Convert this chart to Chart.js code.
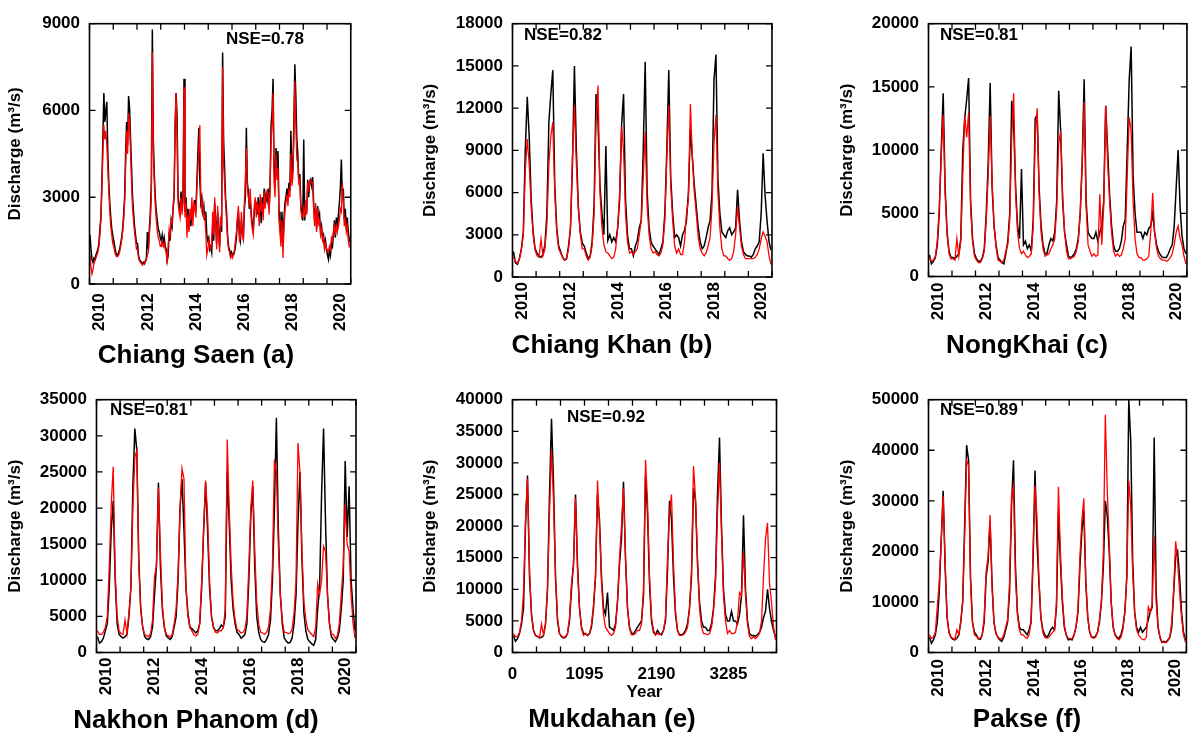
<!DOCTYPE html>
<html>
<head>
<meta charset="utf-8">
<script src="https://cdn.jsdelivr.net/npm/chart.js@4.4.1/dist/chart.umd.min.js"></script>
<style>
  html, body { margin: 0; padding: 0; background: #fff; overflow: hidden; width: 1188px; height: 735px; }
  canvas { position: absolute; }
  .lbl { position: absolute; font-family: "Liberation Sans", Arial, sans-serif; font-weight: bold; line-height: 1; white-space: nowrap; color: #000; }
  .ttl { font-size: 26px; transform: translate(-50%, -50%); }
  .nse { font-size: 17px; transform: translate(0, -50%); }
</style>
</head>
<body>
<script>
// Chiang Saen: half-monthly values, Jan 2010 .. Dec 2020 (one row per year)
const obsA = [
  1700, 1200, 850, 750, 900, 850, 1000, 1100, 1200, 1400, 1900, 2300, 3500, 5000, 6600, 5600, 6000, 6300, 4500, 3500, 2800, 2300, 1900, 1700,
  1500, 1300, 1100, 1000, 1000, 1100, 1200, 1400, 1600, 1900, 2400, 3000, 4500, 5600, 4800, 6500, 6100, 5000, 4000, 3000, 2500, 2000, 1700, 1400,
  1400, 1000, 850, 800, 750, 700, 750, 700, 800, 900, 1800, 1200, 1900, 2500, 3500, 8800, 5000, 3800, 3000, 2500, 2200, 1900, 1800, 1600,
  1500, 1700, 1400, 1600, 1300, 1200, 800, 1000, 1800, 1500, 2200, 2000, 2600, 3000, 5400, 6600, 5800, 3000, 2700, 2500, 3200, 2600, 3000, 7100,
  2500, 3000, 2200, 2600, 1900, 2400, 2000, 2700, 2300, 2600, 2900, 2500, 3500, 4500, 5400, 3600, 2800, 3000, 2500, 2700, 2200, 2500, 1700, 1500,
  1600, 1200, 1300, 1100, 2000, 1500, 2800, 2200, 1400, 2500, 1800, 1300, 2300, 1800, 8000, 5000, 4000, 3000, 2500, 1700, 1300, 1200, 1000, 1100,
  1000, 1000, 1100, 1300, 1600, 2200, 2500, 1700, 1500, 2200, 1800, 1600, 2600, 3000, 5400, 3500, 3200, 2600, 2900, 2400, 2100, 1800, 2500, 2800,
  2800, 2400, 3000, 2300, 2900, 2100, 3000, 2500, 3300, 2700, 3100, 2900, 3300, 2600, 3500, 5500, 6000, 7100, 4000, 3500, 4700, 3800, 4600, 2500,
  2000, 1500, 2500, 1300, 2200, 2800, 3000, 3300, 2900, 3500, 3200, 5300, 3600, 4000, 5500, 7600, 6500, 5000, 4500, 3500, 3800, 2800, 2400, 2200,
  5000, 2200, 2800, 2500, 3600, 3000, 3500, 3600, 3400, 3700, 2800, 2200, 2600, 1900, 2700, 2200, 2400, 1800, 2000, 1600, 1700, 1300, 1500, 1200,
  1000, 850, 1200, 1000, 1400, 1300, 1700, 2200, 1600, 2300, 1900, 2400, 2800, 3300, 4300, 3000, 3300, 2200, 2600, 1900, 2300, 1800, 1500, 1600
];
const simA = [
  1000, 600, 350, 500, 700, 800, 900, 1000, 1100, 1300, 1700, 2200, 3200, 4500, 5500, 5000, 5300, 4800, 4000, 3200, 2500, 2000, 1700, 1400,
  1300, 1100, 1000, 950, 950, 1000, 1100, 1300, 1500, 1800, 2200, 2800, 4000, 5300, 4500, 5900, 5600, 4500, 3500, 2600, 2200, 1800, 1500, 1200,
  1200, 900, 800, 750, 700, 650, 700, 700, 750, 850, 1000, 1100, 1700, 2200, 3000, 8000, 4500, 3500, 2700, 2200, 1800, 1600, 1500, 1300,
  1300, 1500, 1300, 1400, 1200, 1100, 700, 1300, 1900, 1700, 2200, 2100, 2700, 3200, 5500, 6600, 5000, 2800, 2500, 2300, 3000, 2400, 2800, 6800,
  2300, 2800, 1600, 2400, 1800, 2600, 2200, 3000, 2000, 2800, 2700, 2300, 3300, 4000, 4700, 5500, 3000, 2600, 2800, 2300, 2400, 1800, 1000, 1200,
  1500, 1300, 1200, 1400, 2500, 1700, 3000, 2000, 1200, 2700, 1600, 1100, 2200, 2000, 7500, 4200, 3500, 2800, 2200, 1600, 1200, 1100, 900, 1000,
  900, 1000, 1200, 1500, 1800, 2300, 2700, 1500, 1600, 2500, 1700, 1500, 2800, 3600, 4700, 3300, 3000, 2800, 3300, 2200, 1900, 1700, 2700, 3000,
  2300, 2800, 2700, 2000, 3100, 2500, 2800, 2200, 3200, 2600, 3000, 3200, 3100, 2400, 3300, 5000, 5500, 6600, 3500, 3000, 4500, 3600, 4000, 2200,
  1800, 1300, 2200, 900, 2000, 2500, 2800, 3100, 2700, 3300, 3000, 4500, 3400, 3700, 5000, 7000, 5500, 4300, 4200, 3500, 3600, 2600, 2300, 2400,
  2600, 2300, 2900, 2400, 3500, 3200, 3600, 3600, 3500, 3500, 2600, 2000, 2800, 1800, 2600, 2100, 2200, 1700, 1900, 1500, 1600, 1200, 1400, 1200,
  1200, 1100, 1300, 1200, 1600, 1500, 1800, 2000, 1700, 2100, 1800, 2000, 2200, 2600, 2500, 3500, 2800, 2000, 2300, 1800, 2000, 1500, 1300, 1400
];
// other stations: monthly values, Jan 2010 .. Dec 2020 (one row per year)
const obsB = [
  1800, 1000, 900, 1300, 2000, 3200, 9000, 12800, 10000, 5500, 3200, 2000,
  1700, 1500, 1400, 1600, 2300, 4500, 11000, 13000, 14700, 6500, 3500, 2200,
  1800, 1400, 1200, 1300, 2200, 3500, 8000, 15000, 9000, 5000, 3200, 2400,
  2200, 1700, 1300, 1500, 2500, 5000, 13000, 11000, 6500, 4500, 3000, 9300,
  2600, 3000, 2500, 2800, 2500, 3500, 5500, 10800, 13000, 5500, 3000, 2000,
  2000, 1500, 2200, 2600, 3500, 4000, 9000, 15300, 6000, 3500, 2500, 2200,
  2000, 1800, 1600, 2000, 2500, 4500, 9000, 14700, 7000, 4500, 2800, 3000,
  2800, 2200, 3000, 3300, 4000, 6000, 10500, 8500, 6500, 5000, 3500, 2500,
  2000, 2200, 2800, 3500, 4000, 6000, 14000, 15800, 7000, 4500, 3200, 3000,
  2800, 3300, 3500, 3000, 3200, 3500, 6200, 4000, 2500, 1800, 1600, 1500,
  1500, 1400, 1600, 2000, 2200, 2500, 4500, 8800, 5800, 4000, 2500, 1900
];
const simB = [
  1400, 1100, 1000, 1300, 1900, 3000, 7500, 9800, 8000, 5000, 3000, 1900,
  1500, 1400, 2700, 1500, 2000, 3800, 8000, 10000, 11000, 6000, 3200, 2000,
  1700, 1400, 1200, 1300, 2000, 3500, 8500, 12200, 8000, 4800, 3000, 2000,
  2000, 1500, 1200, 1400, 2200, 4500, 11000, 13600, 6000, 3500, 2300, 1800,
  1700, 1500, 1300, 1400, 2000, 3500, 6000, 10700, 9000, 4500, 2500, 1700,
  1800, 1600, 1800, 2000, 3000, 4000, 7000, 10300, 5000, 3000, 2000, 1700,
  1800, 1600, 1500, 1700, 2300, 4000, 8500, 12200, 6500, 4000, 2200, 1700,
  2000, 1600, 1600, 2500, 4500, 5500, 12300, 8500, 6000, 4500, 2800, 2000,
  1700, 1500, 1700, 2200, 2800, 5000, 9500, 11500, 6000, 3500, 2000, 1500,
  1500, 1300, 1200, 1300, 1800, 3000, 5000, 3500, 2200, 1600, 1300, 1300,
  1300, 1300, 1300, 1400, 1600, 2000, 2700, 3200, 2900, 2500, 1500, 900
];
const obsC = [
  1700, 1000, 1200, 1500, 2500, 5000, 10000, 14500, 7000, 3500, 2000, 1500,
  1500, 1400, 1600, 1800, 3000, 10000, 12500, 14000, 15700, 6000, 3000, 1800,
  1400, 1200, 1200, 1500, 2200, 5000, 9000, 15300, 7000, 4000, 2500, 1500,
  1300, 1100, 1000, 1800, 2800, 5000, 13900, 12000, 7000, 4000, 3000, 8500,
  2500, 2800, 2200, 2500, 2000, 4500, 12500, 12800, 7000, 4000, 2500, 1800,
  1800, 2500, 3000, 2800, 3500, 6000, 14700, 11500, 6000, 3500, 2500, 1600,
  1500, 1600, 1800, 2200, 3000, 5000, 9000, 15600, 6000, 3500, 3200, 3000,
  3000, 3500, 2800, 3500, 4000, 6000, 13500, 10000, 6500, 4000, 2500, 2000,
  2000, 2200, 2800, 4000, 4500, 10000, 15500, 18200, 8000, 5000, 3500, 3500,
  3500, 3000, 3500, 3300, 3800, 4000, 5000, 3500, 2500, 2000, 1700, 1500,
  1500, 1500, 1800, 2200, 2500, 4000, 7000, 10000, 5500, 3200, 2200, 1800
];
const simC = [
  1500, 1200, 1300, 1600, 2800, 5500, 9500, 12800, 6500, 3300, 1800, 1400,
  1400, 1300, 3000, 1600, 2800, 8000, 12700, 11000, 13000, 5500, 2800, 1600,
  1300, 1100, 1100, 1400, 2000, 4500, 8000, 12700, 7500, 4000, 2300, 1300,
  1200, 1100, 1300, 2000, 2500, 4500, 11000, 14500, 6500, 3500, 2200, 1800,
  2000, 1700, 1500, 1600, 1800, 4000, 11000, 13300, 6500, 3500, 2200, 1600,
  1700, 1800, 2200, 2500, 3000, 5500, 10500, 11500, 6500, 3500, 2000, 1400,
  1400, 1500, 1600, 2000, 2800, 5000, 9000, 13800, 5500, 2500, 2000, 1600,
  1800, 1600, 1700, 6500, 2500, 5500, 13500, 9000, 6000, 3500, 2000, 1600,
  1800, 1600, 1700, 2200, 3000, 8000, 12600, 11500, 6000, 3000, 1800, 1500,
  1500, 1300, 1300, 1400, 1600, 3500, 6600, 3500, 2200, 1600, 1400, 1300,
  1300, 1200, 1300, 1500, 1800, 2500, 3500, 4000, 3000, 2500, 1600, 1000
];
const obsD = [
  2200, 1300, 1500, 2000, 3000, 4000, 9000, 17000, 21000, 10000, 4000, 2500,
  2200, 2000, 2200, 2500, 5000, 9000, 23000, 31000, 28000, 13000, 6000, 3500,
  2200, 1900, 1800, 2200, 3500, 8000, 12000, 23500, 12000, 6000, 3500, 2300,
  2000, 1800, 2200, 3500, 5000, 10000, 20000, 24000, 17000, 9000, 5500, 3500,
  3300, 3000, 2700, 3000, 4000, 9000, 17000, 23500, 17000, 9000, 5000, 3500,
  3000, 3000, 3300, 3800, 3500, 5000, 25000, 18000, 10000, 6000, 4000, 2800,
  2500, 2000, 2200, 2500, 4000, 10000, 19000, 23000, 12000, 5000, 2800, 1800,
  1500, 1400, 1800, 2500, 4500, 10000, 20000, 32500, 17000, 8000, 4000, 2000,
  1600, 1300, 1400, 2000, 4000, 8000, 18000, 25000, 13000, 5500, 3000, 1800,
  1500, 1200, 1000, 1800, 6000, 9000, 22000, 31000, 18000, 8000, 4000, 2200,
  1800, 1500, 2000, 3000, 6000, 10000, 26500, 16000, 23000, 10000, 6000, 3000
];
const simD = [
  3000, 2500, 2500, 2800, 3500, 5000, 12000, 20500, 25700, 11000, 5000, 3000,
  2600, 2500, 4500, 2600, 5500, 9000, 20000, 27000, 28000, 12000, 6000, 3500,
  2500, 2300, 2200, 2600, 4500, 10500, 12000, 22800, 14000, 6500, 3500, 2500,
  2300, 2100, 2500, 4000, 6000, 11000, 20000, 25500, 24000, 9000, 5000, 3500,
  3000, 2500, 2300, 2500, 4000, 10000, 17000, 23800, 19000, 10000, 5000, 3500,
  2800, 2700, 3000, 3000, 3500, 6000, 29500, 20000, 12000, 7000, 4500, 3200,
  3000, 2700, 2800, 3200, 5000, 12000, 20000, 23800, 14000, 7000, 4000, 2800,
  2700, 2500, 2800, 3500, 6000, 12000, 26700, 25000, 15000, 8000, 4500, 2800,
  2800, 2600, 2700, 3200, 5500, 10000, 29000, 25000, 14000, 7000, 4500, 3200,
  2800, 2500, 2200, 3500, 9500, 8000, 10000, 14700, 14000, 8000, 4000, 2500,
  2500, 2000, 2300, 4000, 8000, 12000, 20500, 15000, 14000, 8000, 4000, 2000
];
const obsE = [
  2700, 1800, 2200, 3000, 4500, 7000, 20000, 28000, 12000, 6000, 3500, 2700,
  2500, 2300, 2400, 2700, 4500, 10000, 25000, 37000, 27000, 12000, 5000, 3000,
  2500, 2300, 2400, 3000, 5000, 10000, 14000, 25000, 14000, 7000, 4000, 3000,
  3000, 2700, 3000, 4000, 7000, 12000, 25000, 21000, 12000, 7000, 6000, 9500,
  4000, 3800, 3500, 4500, 8000, 14000, 18000, 27000, 15000, 7000, 4000, 3000,
  3000, 3500, 4000, 4500, 5000, 9000, 28000, 22000, 11000, 5000, 3200, 2800,
  3500, 3000, 2800, 3500, 5000, 13000, 24000, 21000, 12000, 6000, 3500, 2800,
  2800, 3000, 3500, 4500, 7000, 12000, 26000, 24000, 14000, 8000, 5000, 4000,
  4000, 3500, 3500, 4500, 7000, 12000, 25000, 34000, 20000, 10000, 6000, 5000,
  5000, 6500, 5000, 5000, 4500, 6000, 9000, 21700, 10000, 5000, 3000, 2700,
  2700, 2600, 2800, 3200, 4000, 5500, 6500, 10000, 7000, 5000, 3500, 2500
];
const simE = [
  3000, 2500, 2500, 3200, 5000, 9500, 21000, 27500, 13000, 6000, 3500, 2700,
  2600, 2300, 4500, 2800, 4500, 10000, 22000, 32000, 24000, 12000, 5500, 3000,
  2600, 2400, 2500, 3000, 5500, 11000, 14000, 24500, 13000, 7000, 3800, 2700,
  3000, 2700, 3000, 4500, 7500, 12000, 27200, 20000, 11000, 6000, 4000, 3500,
  3000, 2700, 3000, 4000, 8000, 15000, 20000, 26000, 15000, 7000, 3800, 2800,
  2800, 3000, 3500, 3500, 4500, 10000, 30500, 24000, 12000, 5500, 3500, 2800,
  3000, 2800, 3000, 3500, 5500, 15000, 22000, 25000, 14000, 6500, 3500, 2700,
  2700, 2800, 3200, 4000, 7000, 13000, 29500, 24500, 15000, 7000, 4000, 3000,
  3000, 2800, 3000, 4000, 6500, 11000, 22000, 30000, 19000, 9000, 5000, 3000,
  3500, 3000, 3000, 3200, 5000, 9500, 9000, 16000, 9000, 4500, 2500, 2200,
  2500, 2200, 2500, 3000, 5000, 12000, 18000, 20500, 11000, 8000, 4000, 2000
];
const obsF = [
  3000, 1800, 2500, 3500, 6000, 12000, 22000, 32000, 17000, 7000, 4000, 3000,
  2600, 2500, 2800, 3500, 6000, 10000, 25000, 41000, 38000, 15000, 6000, 4000,
  3500, 2700, 2600, 3500, 6000, 15000, 18000, 26000, 14000, 6000, 3800, 3000,
  2500, 2200, 3000, 4500, 6000, 12000, 29000, 38000, 17000, 8000, 5000, 4500,
  4500, 4000, 3500, 4500, 6000, 18000, 36000, 22000, 14000, 7000, 4500, 3500,
  3000, 3500, 4500, 5000, 4500, 9000, 28000, 18000, 10000, 5000, 3500, 2500,
  2600, 2500, 3500, 5000, 8000, 17000, 24000, 28000, 14000, 7000, 4000, 3000,
  3000, 3200, 4000, 6000, 10000, 17000, 30000, 27000, 20000, 10000, 5000, 3500,
  3000, 2800, 3500, 5000, 8000, 15000, 50000, 42000, 18000, 8000, 5000, 4000,
  5000, 4000, 4500, 5000, 6500, 8000, 9000, 42500, 12000, 5000, 3000, 2000,
  2200, 2000, 2500, 3000, 5000, 12000, 19000, 20000, 15000, 8000, 4000, 2500
];
const simF = [
  3500, 2800, 3000, 4000, 9000, 14000, 22000, 31000, 18000, 7000, 4000, 3000,
  2800, 2600, 4500, 3500, 6000, 10000, 23000, 38000, 37000, 14000, 6000, 3500,
  3200, 2800, 2800, 3500, 7000, 16000, 19000, 27200, 13000, 6000, 3800, 3000,
  2800, 2600, 3500, 5000, 6500, 14000, 31000, 33000, 15000, 7500, 4500, 3500,
  3500, 3000, 2800, 3500, 6000, 20000, 33000, 27000, 15000, 7000, 4000, 3000,
  2800, 3000, 3500, 4000, 4500, 10000, 32800, 20000, 11000, 5500, 3500, 2800,
  2800, 2700, 3500, 5000, 8500, 19000, 26000, 30500, 14000, 7000, 4000, 3000,
  2800, 3000, 4000, 6500, 10000, 20000, 47000, 32000, 22000, 10000, 5000, 3500,
  2800, 2500, 3000, 4500, 8000, 15000, 34000, 29000, 16000, 8000, 4500, 3500,
  3000, 2600, 2500, 3000, 9000, 8000, 9500, 23000, 10000, 5000, 2800, 2000,
  2000, 1900, 2300, 3000, 6000, 12500, 22000, 18000, 12000, 7000, 3500, 2000
];

// x axis is in months from Jan 2010
const yearTicks = [0, 12, 24, 36, 48, 60, 72, 84, 96, 108, 120, 132];
const yearLabelPos = [5, 29.5, 54, 78, 102.5, 126.5];
const yearLabels = ['2010', '2012', '2014', '2016', '2018', '2020'];
const dayLabelPos = [0, 36, 72, 108];
const dayLabels = ['0', '1095', '2190', '3285'];

const panels = [
  { name: 'Chiang Saen (a)', nse: 'NSE=0.78', obs: obsA, sim: simA, step: 0.5, yMax: 9000, yStep: 3000, lp: 9.3,
    L: 89.5, T: 13.5, R: 359.5, B: 283.5, ytx: 15, tx: 196, ty: 354, nx: 226, ny: 38 },
  { name: 'Chiang Khan (b)', nse: 'NSE=0.82', obs: obsB, sim: simB, step: 1, yMax: 18000, yStep: 3000, lp: 5,
    L: 512.5, T: 13.5, R: 776.5, B: 276.5, ytx: 430, tx: 612, ty: 344, nx: 524, ny: 34 },
  { name: 'NongKhai (c)', nse: 'NSE=0.81', obs: obsC, sim: simC, step: 1, yMax: 20000, yStep: 5000, lp: 6,
    L: 928.5, T: 14, R: 1192.5, B: 276.5, ytx: 847, tx: 1027, ty: 344, nx: 940, ny: 34 },
  { name: 'Nakhon Phanom (d)', nse: 'NSE=0.81', obs: obsD, sim: simD, step: 1, yMax: 35000, yStep: 5000, lp: 5,
    L: 96.5, T: 389.5, R: 361, B: 652, ytx: 15, tx: 196, ty: 719, nx: 110, ny: 409 },
  { name: 'Mukdahan (e)', nse: 'NSE=0.92', obs: obsE, sim: simE, step: 1, yMax: 40000, yStep: 5000, lp: 12, days: true,
    L: 512.5, T: 389.5, R: 776.5, B: 652, ytx: 430, tx: 612, ty: 718, nx: 567, ny: 416 },
  { name: 'Pakse (f)', nse: 'NSE=0.89', obs: obsF, sim: simF, step: 1, yMax: 50000, yStep: 10000, lp: 6.5,
    L: 928.5, T: 389.5, R: 1192.5, B: 652, ytx: 847, tx: 1027, ty: 718, nx: 940, ny: 409 }
];

const font17 = { family: '"Liberation Sans", Arial, sans-serif', size: 17, weight: 'bold' };

// box frame with inward ticks on all four sides
const frame = {
  id: 'frame',
  afterDraw(chart) {
    const { ctx, chartArea: a, scales: { x, y } } = chart;
    ctx.save();
    ctx.strokeStyle = '#000';
    ctx.lineWidth = 1.3;
    ctx.beginPath();
    yearTicks.forEach(v => {
      const px = x.getPixelForValue(v);
      ctx.moveTo(px, a.bottom); ctx.lineTo(px, a.bottom - 6);
      ctx.moveTo(px, a.top); ctx.lineTo(px, a.top + 6);
    });
    y.ticks.forEach(t => {
      const py = y.getPixelForValue(t.value);
      ctx.moveTo(a.left, py); ctx.lineTo(a.left + 6, py);
      ctx.moveTo(a.right, py); ctx.lineTo(a.right - 6, py);
    });
    ctx.stroke();
    ctx.lineWidth = 1.6;
    ctx.strokeRect(a.left, a.top, a.right - a.left, a.bottom - a.top);
    ctx.restore();
  }
};

panels.forEach(p => {
  const cl = p.ytx - 12;
  const ct = p.T - 10;
  const wy = p.L - cl;
  const cw = Math.ceil(wy + (p.R - p.L) + 10);
  const ch = Math.ceil(10 + (p.B - p.T) + (p.days ? 50.2 : 70));
  const hx = ch - 10 - (p.B - p.T);

  const cv = document.createElement('canvas');
  cv.width = cw; cv.height = ch;
  cv.style.width = cw + 'px'; cv.style.height = ch + 'px';
  cv.style.left = cl + 'px'; cv.style.top = ct + 'px';
  document.body.appendChild(cv);

  const pos = p.days ? dayLabelPos : yearLabelPos;
  const labs = p.days ? dayLabels : yearLabels;
  const rot = p.days ? 0 : 90;

  new Chart(cv, {
    type: 'line',
    data: {
      datasets: [
        { label: 'Simulated', data: p.sim.map((v, i) => ({ x: (i + 0.5) * p.step, y: v })),
          borderColor: '#ff0000', borderWidth: 1.3, pointRadius: 0, order: 0 },
        { label: 'Observed', data: p.obs.map((v, i) => ({ x: (i + 0.5) * p.step, y: v })),
          borderColor: '#000000', borderWidth: 1.5, pointRadius: 0, order: 1 }
      ]
    },
    options: {
      responsive: false,
      animation: false,
      devicePixelRatio: 1,
      layout: { padding: { top: 10, right: cw - wy - (p.R - p.L), left: 0, bottom: 0 } },
      plugins: { legend: { display: false }, tooltip: { enabled: false } },
      scales: {
        x: {
          type: 'linear', min: 0, max: 132,
          grid: { display: false, drawTicks: false }, border: { display: false },
          afterFit: s => { s.height = hx; },
          afterBuildTicks: s => { s.ticks = pos.map(v => ({ value: v })); },
          ticks: { autoSkip: false, minRotation: rot, maxRotation: rot, padding: p.lp,
                   font: font17, color: '#000', callback: (v, i) => labs[i] },
          title: { display: !!p.days, text: 'Year', font: font17, color: '#000', padding: { top: 0, bottom: 0 } }
        },
        y: {
          min: 0, max: p.yMax,
          grid: { display: false, drawTicks: false }, border: { display: false },
          afterFit: s => { s.width = wy; },
          ticks: { stepSize: p.yStep, padding: 9.5, font: font17, color: '#000', callback: v => String(v) },
          title: { display: true, text: 'Discharge (m³/s)', font: font17, color: '#000', padding: { top: 1.8, bottom: 0 } }
        }
      }
    },
    plugins: [frame]
  });

  const t = document.createElement('div');
  t.className = 'lbl ttl';
  t.style.left = p.tx + 'px'; t.style.top = p.ty + 'px';
  t.textContent = p.name;
  document.body.appendChild(t);

  const n = document.createElement('div');
  n.className = 'lbl nse';
  n.style.left = p.nx + 'px'; n.style.top = p.ny + 'px';
  n.textContent = p.nse;
  document.body.appendChild(n);
});
</script>
</body>
</html>
